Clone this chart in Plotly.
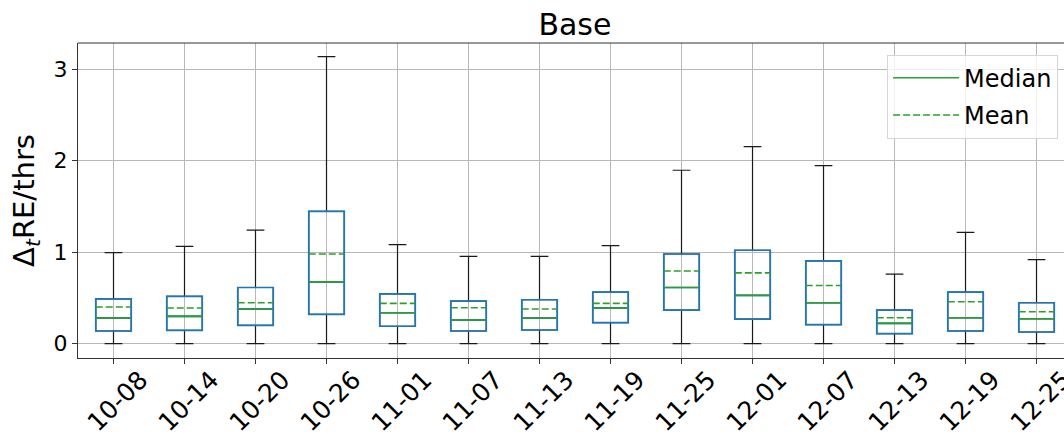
import plotly.graph_objects as go

dates = ["10-08", "10-14", "10-20", "10-26", "11-01", "11-07", "11-13",
         "11-19", "11-25", "12-01", "12-07", "12-13", "12-19", "12-25"]
whisker_low = [0.0] * 14
q1 = [0.138, 0.146, 0.200, 0.320, 0.190, 0.138, 0.149, 0.229, 0.367, 0.269, 0.207, 0.109, 0.138, 0.127]
medians = [0.280, 0.298, 0.378, 0.676, 0.338, 0.258, 0.280, 0.389, 0.614, 0.527, 0.447, 0.222, 0.283, 0.272]
means = [0.400, 0.389, 0.447, 0.980, 0.440, 0.392, 0.378, 0.440, 0.795, 0.774, 0.636, 0.283, 0.458, 0.349]
q3 = [0.490, 0.516, 0.614, 1.446, 0.545, 0.465, 0.480, 0.563, 0.980, 1.021, 0.904, 0.367, 0.563, 0.447]
whisker_high = [0.996, 1.064, 1.242, 3.137, 1.083, 0.955, 0.955, 1.072, 1.896, 2.154, 1.947, 0.759, 1.217, 0.919]

pos = list(range(len(dates)))
BOX_W = 0.5
FONT = "DejaVu Sans"

fig = go.Figure()

# whiskers + caps (black)
fig.add_trace(go.Box(
    x=pos, q1=q1, median=medians, q3=q3,
    lowerfence=whisker_low, upperfence=whisker_high,
    width=BOX_W, whiskerwidth=0.5,
    line=dict(color="#1a1a1a", width=1.2),
    fillcolor="rgba(0,0,0,0)", boxpoints=False,
    showlegend=False, hoverinfo="skip",
))
# boxes (blue)
fig.add_trace(go.Box(
    x=pos, q1=q1, median=medians, q3=q3,
    lowerfence=q1, upperfence=q3,
    width=BOX_W, whiskerwidth=0,
    line=dict(color="#1f77b4", width=1.7),
    fillcolor="rgba(0,0,0,0)", boxpoints=False,
    showlegend=False, hoverinfo="skip",
))

def segs(vals):
    xs, ys = [], []
    for p, v in zip(pos, vals):
        xs += [p - BOX_W / 2, p + BOX_W / 2, None]
        ys += [v, v, None]
    return xs, ys

mx, my = segs(medians)
fig.add_trace(go.Scatter(x=mx, y=my, mode="lines", name="Median", legendgroup="med",
                         line=dict(color="#2ca02c", width=1.6), hoverinfo="skip"))
ax, ay = segs(means)
fig.add_trace(go.Scatter(x=ax, y=ay, mode="lines", name="Mean", legendgroup="mean",
                         line=dict(color="#2ca02c", width=1.6, dash="7px,3px"), hoverinfo="skip"))

W, H = 1064, 438
fig.update_layout(
    width=W, height=H,
    margin=dict(l=78, r=0, t=43, b=80, autoexpand=False),
    paper_bgcolor="white", plot_bgcolor="white",
    boxmode="overlay",
    font=dict(family=FONT, color="black"),
    title=dict(text="Base", x=0.504, xref="paper", xanchor="center",
               y=1 - 24 / H, yref="container", yanchor="middle",
               font=dict(size=30, family=FONT, color="black")),
    legend=dict(x=0.994, xanchor="right", y=0.963, yanchor="top",
                bgcolor="rgba(255,255,255,0.8)", bordercolor="#d6d6d6", borderwidth=1,
                itemwidth=66, tracegroupgap=3,
                font=dict(size=24, family=FONT, color="black")),
    shapes=[dict(type="line", xref="paper", yref="paper", x0=0, x1=1, y0=1, y1=1,
                 line=dict(color="#333333", width=1.2))],
)

fig.update_xaxes(
    range=[-0.5, 13.387], tickmode="array", tickvals=pos, ticktext=dates,
    tickangle=-45, tickfont=dict(size=25, family=FONT, color="black"),
    ticklabelshift=27, ticklabelstandoff=-9, ticklabeloverflow="allow",
    automargin=False,
    showgrid=True, gridcolor="#b8b8b8", gridwidth=1,
    showline=True, linecolor="#333333", linewidth=1.2,
    ticks="outside", ticklen=5, tickcolor="#333333", zeroline=False,
)
fig.update_yaxes(
    range=[-0.157, 3.287], tickmode="array", tickvals=[0, 1, 2, 3],
    tickfont=dict(size=22, family=FONT, color="black"),
    title=dict(text="Δ<sub><i>t</i></sub>RE/thrs", font=dict(size=29, family=FONT, color="black"),
               standoff=10),
    automargin=False,
    showgrid=True, gridcolor="#b8b8b8", gridwidth=1,
    showline=True, linecolor="#333333", linewidth=1.2,
    ticks="outside", ticklen=5, tickcolor="#333333", zeroline=False,
)

fig.write_html("out.html", config={"displayModeBar": False},
               post_script="document.body.style.margin='0';document.body.style.overflow='hidden';")
